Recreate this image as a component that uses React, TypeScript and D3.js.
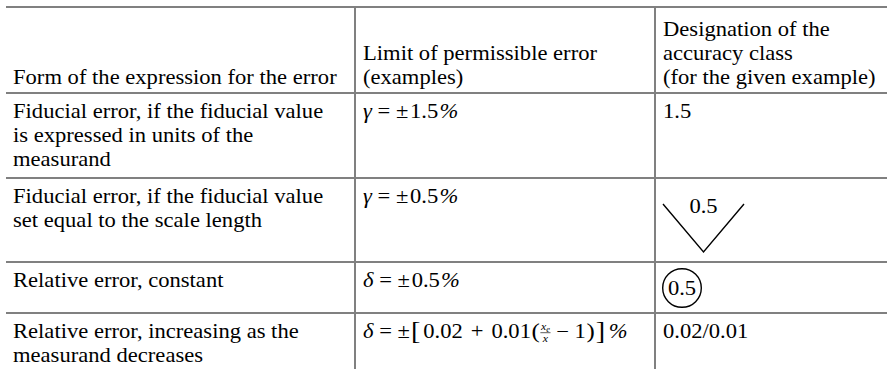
import { useEffect, useRef } from "react";
import * as d3 from "d3";

// table content
const headerCells = [
  ["Form of the expression for the error"],
  ["Limit of permissible error", "(examples)"],
  ["Designation of the", "accuracy class", "(for the given example)"],
];

const errorForms = [
  ["Fiducial error, if the fiducial value", "is expressed in units of the", "measurand"],
  ["Fiducial error, if the fiducial value", "set equal to the scale length"],
  ["Relative error, constant"],
  ["Relative error, increasing as the", "measurand decreases"],
];

const limitSymbols = ["γ", "γ", "δ", "δ"];
const limitValues = ["1.5", "0.5", "0.5", ""];
const relCoefficients = ["0.02", "0.01"];
const classLabels = ["1.5", "0.5", "0.5", "0.02/0.01"];
const classMarks = ["plain", "vee", "circle", "plain"];

// layout
const W = 887;
const H = 369;
const colEdges = [6, 355, 655, 887];
const rowEdges = [7, 93, 178, 262, 313];
const FONT = "'Liberation Serif', 'Times New Roman', serif";
const FS = 20;
const SX = 1.13;
const LH = 24;
const PAD = 8;
const LINE = "#808080";

type Piece =
  | { t: string; italic?: boolean; size?: number; dy?: number; gap?: number }
  | { num: string; sub: string; den: string; gap?: number };

const App = () => {
  const ref = useRef<SVGSVGElement>(null);

  useEffect(() => {
    const svg = d3.select(ref.current);
    svg.selectAll("*").remove();

    const root = svg.append("g").style("font-family", FONT).style("font-size", FS + "px").attr("fill", "#000");

    const textAt = (x: number, y: number, s: string, anchor = "start") =>
      root
        .append("text")
        .attr("transform", `translate(${x},${y}) scale(${SX},1)`)
        .attr("text-anchor", anchor)
        .text(s);

    const drawMath = (x: number, y: number, pieces: Piece[]) => {
      const g = root.append("g").attr("transform", `translate(${x},${y}) scale(${SX},1)`);
      let cx = 0;
      pieces.forEach((p) => {
        cx += p.gap ?? 0;
        if ("num" in p) {
          const num = g.append("text").style("font-size", "10.5px").style("font-style", "italic").attr("y", -7.5);
          num.append("tspan").text(p.num);
          num.append("tspan").style("font-size", "7.5px").attr("dy", 1.5).text(p.sub);
          const nw = (num.node() as SVGTextElement).getComputedTextLength();
          const den = g.append("text").style("font-size", "10.5px").style("font-style", "italic").attr("y", 4.5).text(p.den);
          const dw = (den.node() as SVGTextElement).getComputedTextLength();
          const fw = Math.max(nw, dw) + 2;
          num.attr("x", cx + 1 + (fw - 2 - nw) / 2);
          den.attr("x", cx + 1 + (fw - 2 - dw) / 2);
          g.append("line")
            .attr("x1", cx + 0.5)
            .attr("x2", cx + fw - 0.5)
            .attr("y1", -4.8)
            .attr("y2", -4.8)
            .attr("stroke", "#000")
            .attr("stroke-width", 0.6);
          cx += fw;
        } else {
          const t = g
            .append("text")
            .attr("x", cx)
            .attr("y", p.dy ?? 0)
            .style("font-style", p.italic ? "italic" : "normal")
            .style("font-size", (p.size ?? FS) + "px")
            .style("white-space", "pre")
            .text(p.t);
          cx += (t.node() as SVGTextElement).getComputedTextLength();
        }
      });
    };

    // grid lines
    const lines = root.append("g").attr("stroke", LINE).attr("stroke-width", 2);
    rowEdges.forEach((y) =>
      lines.append("line").attr("x1", colEdges[0]).attr("x2", colEdges[3]).attr("y1", y).attr("y2", y)
    );
    [colEdges[1], colEdges[2]].forEach((x) =>
      lines.append("line").attr("x1", x).attr("x2", x).attr("y1", rowEdges[0] - 1).attr("y2", H)
    );

    // header, bottom aligned
    headerCells.forEach((cell, c) => {
      const last = rowEdges[1] - 9;
      cell.forEach((s, i) => textAt(colEdges[c] + PAD - (c === 0 ? 1 : 0), last - (cell.length - 1 - i) * LH, s));
    });

    // body
    errorForms.forEach((cell, r) => {
      const top = rowEdges[r + 1];
      const base = top + 24.5;
      cell.forEach((s, i) => textAt(colEdges[0] + PAD - 1, base + i * LH, s));

      const mx = colEdges[1] + PAD;
      if (limitValues[r]) {
        drawMath(mx, base, [
          { t: limitSymbols[r], italic: true },
          { t: " = ±" },
          { t: limitValues[r], gap: 1.5 },
          { t: "%", italic: true, gap: 1 },
        ]);
      } else {
        drawMath(mx, base, [
          { t: limitSymbols[r], italic: true },
          { t: " = ±" },
          { t: "[", size: 25, dy: 1.5, gap: 1 },
          { t: relCoefficients[0], gap: 2.5 },
          { t: "+", gap: 7 },
          { t: relCoefficients[1], gap: 7 },
          { t: "(", size: 22, dy: 0.5, gap: 0.5 },
          { num: "x", sub: "e", den: "x" },
          { t: "−", gap: 4.5 },
          { t: "1", gap: 5 },
          { t: ")", size: 22, dy: 0.5, gap: 0.5 },
          { t: "]", size: 25, dy: 1.5, gap: 1 },
          { t: "%", italic: true, gap: 3 },
        ]);
      }

      const cx = colEdges[2] + PAD;
      if (classMarks[r] === "vee") {
        const vx = d3.scaleLinear().domain([-1, 1]).range([cx, cx + 81]);
        const vy = d3.scaleLinear().domain([0, 1]).range([top + 26, top + 74]);
        root
          .append("path")
          .attr("d", d3.line()([[vx(-1), vy(0)], [vx(0), vy(1)], [vx(1), vy(0)]]))
          .attr("fill", "none")
          .attr("stroke", "#000")
          .attr("stroke-width", 1.4);
        textAt(vx(0), top + 35, classLabels[r], "middle");
      } else if (classMarks[r] === "circle") {
        const ccx = cx + 19;
        const ccy = top + 26;
        root
          .append("circle")
          .attr("cx", ccx)
          .attr("cy", ccy)
          .attr("r", 19.3)
          .attr("fill", "none")
          .attr("stroke", "#000")
          .attr("stroke-width", 1.4);
        textAt(ccx, ccy + 7, classLabels[r], "middle");
      } else {
        textAt(cx, base, classLabels[r]);
      }
    });
  }, []);

  return (
    <svg
      ref={ref}
      width={W}
      height={H}
      style={{ position: "absolute", left: 0, top: 0, background: "#fff" }}
    />
  );
};

export default App;
